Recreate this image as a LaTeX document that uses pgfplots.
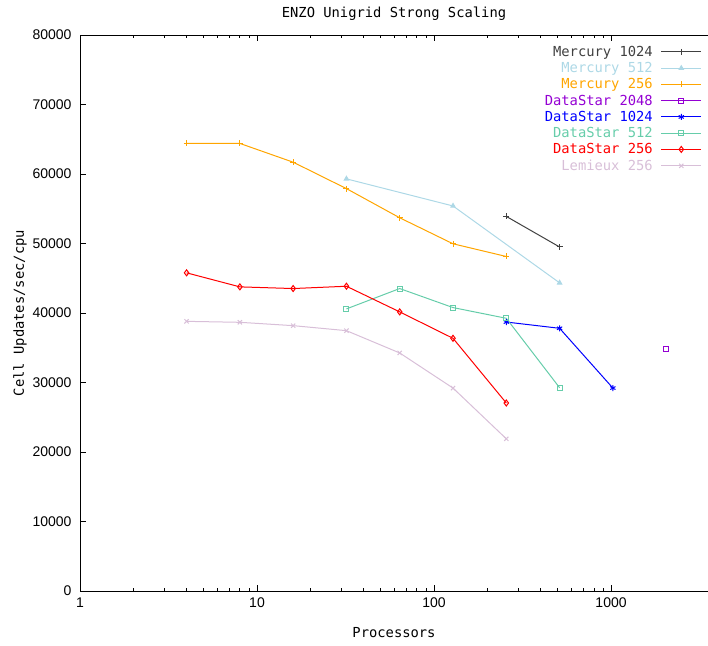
\documentclass[border=0pt]{standalone}
\usepackage{pgfplots}
\pgfplotsset{compat=1.18}
\usepackage{fontspec}
\setmainfont{Liberation Sans}
\newfontfamily\monofont{DejaVu Sans Mono}

\definecolor{merc1024}{HTML}{404040}
\definecolor{merc512}{HTML}{ADD8E6}
\definecolor{merc256}{HTML}{FFA500}
\definecolor{ds2048}{HTML}{9400D3}
\definecolor{ds1024}{HTML}{0000FF}
\definecolor{ds512}{HTML}{66CDAA}
\definecolor{ds256}{HTML}{FF0000}
\definecolor{lem256}{HTML}{D8BFD8}

\pgfplotsset{
  longline/.style={legend image code/.code={%
    \draw[mark repeat=2, mark phase=2, #1] plot coordinates {(0pt,0pt) (20pt,0pt) (40pt,0pt)};}},
}

\begin{document}
\begin{tikzpicture}
\begin{axis}[
  scale only axis,
  width=628pt, height=556pt,
  xmode=log, xmin=1, xmax=3530,
  ymin=0, ymax=80000,
  enlargelimits=false,
  axis x line=box, axis y line=left,
  y axis line style={-},
  x axis line style={-},
  tick align=inside,
  xtick pos=both, ytick pos=left,
  major tick length=6pt, minor tick length=3pt,
  tick style={black, line width=0.8pt},
  axis line style={black, line width=0.8pt},
  xtick={1,10,100,1000},
  xticklabels={1,10,100,1000},
  ytick={0,10000,...,80000},
  scaled y ticks=false,
  yticklabel={\pgfmathprintnumber[fixed,1000 sep={}]{\tick}},
  /pgf/number format/assume math mode=true,
  ticklabel style={font=\fontsize{14}{14}\selectfont},
  yticklabel style={xshift=-5pt},
  xticklabel style={yshift=-3pt},
  title={ENZO Unigrid Strong Scaling},
  every axis title/.style={at={(axis description cs:0.5,1.038)}, anchor=center, font=\monofont\fontsize{13.8}{14}\selectfont},
  xlabel={Processors},
  every axis x label/.style={at={(axis description cs:0.5,-0.0755)}, anchor=center, font=\monofont\fontsize{13.8}{14}\selectfont},
  ylabel={Cell Updates/sec/cpu},
  every axis y label/.style={at={(axis description cs:-0.0955,0.5)}, rotate=90, anchor=center, font=\monofont\fontsize{13.8}{14}\selectfont},
  every axis plot/.append style={line width=1pt, mark size=3pt},
  longline,
  legend plot pos=right,
  legend cell align=right,
  legend style={draw=none, fill=none, at={(axis description cs:0.9904,0.984)}, anchor=north east,
    font=\monofont\fontsize{13.8}{14}\selectfont, row sep=0.5pt, inner sep=0pt,
    /tikz/every odd column/.append style={column sep=6pt}},
]
\addplot[color=merc1024, mark=+] coordinates {(256,53900) (512,49500)};
\addlegendentry{\textcolor{merc1024}{Mercury 1024}}
\addplot[color=merc512, mark=triangle*, mark size=2.5pt] coordinates {(32,59300) (128,55400) (512,44340)};
\addlegendentry{\textcolor{merc512}{Mercury 512}}
\addplot[color=merc256, mark=+] coordinates {(4,64400) (8,64400) (16,61700) (32,57900) (64,53700) (128,49960) (256,48130)};
\addlegendentry{\textcolor{merc256}{Mercury 256}}
\addplot[color=ds2048, mark=square, mark size=2.5pt] coordinates {(2048,34830)};
\addlegendentry{\textcolor{ds2048}{DataStar 2048}}
\addplot[color=ds1024, mark=asterisk] coordinates {(256,38700) (512,37800) (1024,29200)};
\addlegendentry{\textcolor{ds1024}{DataStar 1024}}
\addplot[color=ds512, mark=square, mark size=2.5pt] coordinates {(32,40590) (64,43520) (128,40780) (256,39240) (512,29250)};
\addlegendentry{\textcolor{ds512}{DataStar 512}}
\addplot[color=ds256, mark=diamond] coordinates {(4,45780) (8,43760) (16,43520) (32,43850) (64,40160) (128,36360) (256,27050)};
\addlegendentry{\textcolor{ds256}{DataStar 256}}
\addplot[color=lem256, mark=x] coordinates {(4,38800) (8,38660) (16,38180) (32,37460) (64,34250) (128,29200) (256,21900)};
\addlegendentry{\textcolor{lem256}{Lemieux 256}}
\end{axis}
\pgfresetboundingbox
\useasboundingbox (-80pt,-54pt) rectangle (628pt,591pt);
\end{tikzpicture}
\end{document}
